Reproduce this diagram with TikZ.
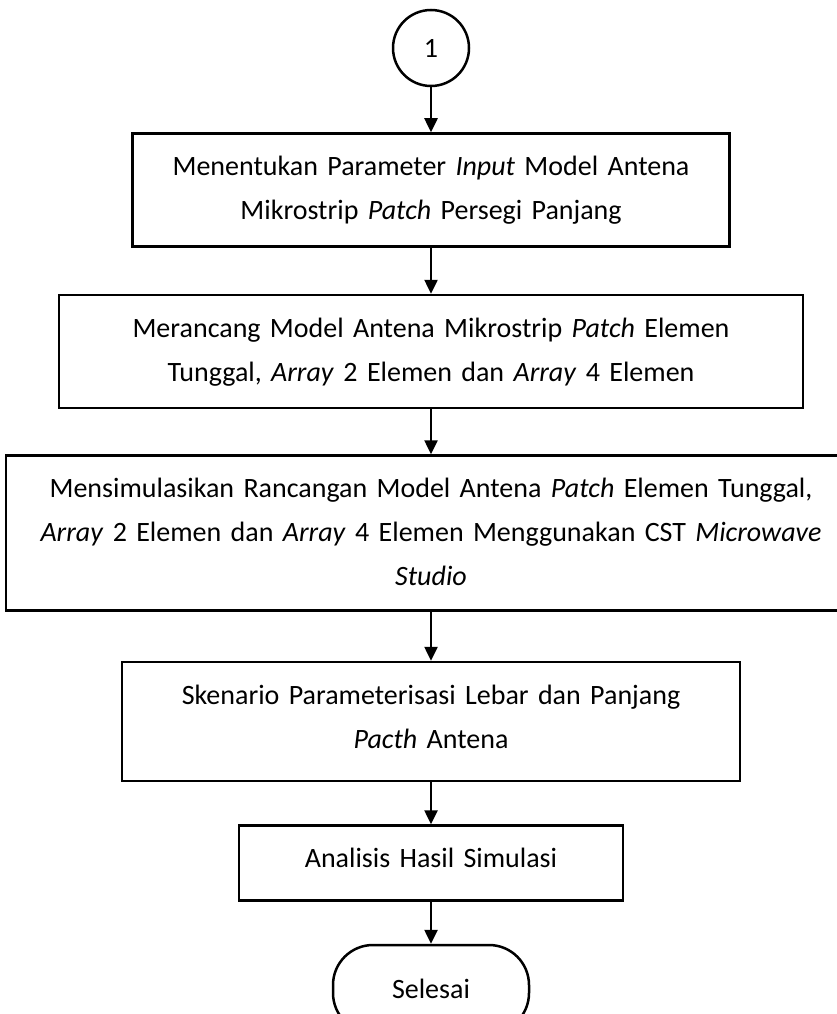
\documentclass[tikz,border=0pt]{standalone}
\usepackage{fontspec}
\setmainfont{Carlito}
\usetikzlibrary{arrows.meta,positioning}

\begin{document}
\begin{tikzpicture}[->,>={Triangle[length=14pt,width=13pt]},x=1pt,y=1pt,
                    node distance=45pt,line width=2.5pt,
                    font=\fontsize{28}{44}\selectfont,
                    main node/.style={draw,rectangle,align=center,inner sep=0pt,text height=42pt},
                    start node/.style={draw,circle,inner sep=0pt,minimum size=76pt},
                    end node/.style={draw,rectangle,rounded corners=40pt,inner sep=0pt,
                                     minimum width=196pt,minimum height=88pt}]

  \useasboundingbox (0,0) rectangle (837,-1014);

  \node[start node] (1) at (431,-48) {1};
  \node[main node,text width=597pt,text depth=71pt] (2) [below=of 1]
    {Menentukan Parameter \textit{Input} Model Antena\\
     Mikrostrip \textit{Patch} Persegi Panjang};
  \node[main node,text width=744pt,text depth=71pt] (3) [below=46pt of 2]
    {Merancang Model Antena Mikrostrip \textit{Patch} Elemen\\
     Tunggal, \textit{Array} 2 Elemen dan \textit{Array} 4 Elemen};
  \node[main node,text width=850pt,text depth=113pt] (4) [below=of 3]
    {Mensimulasikan Rancangan Model Antena \textit{Patch} Elemen Tunggal,\\
     \textit{Array} 2 Elemen dan \textit{Array} 4 Elemen Menggunakan CST \textit{Microwave}\\
     \textit{Studio}};
  \node[main node,text width=618pt,text depth=77pt] (5) [below=49pt of 4]
    {Skenario Parameterisasi Lebar dan Panjang\\
     \textit{Pacth} Antena};
  \node[main node,text width=384pt,text depth=33pt] (6) [below=42pt of 5]
    {Analisis Hasil Simulasi};
  \node[end node] (7) [below=42pt of 6] {Selesai};

  \path (1) edge (2)
        (2) edge (3)
        (3) edge (4)
        (4) edge (5)
        (5) edge (6)
        (6) edge (7);

\end{tikzpicture}
\end{document}
